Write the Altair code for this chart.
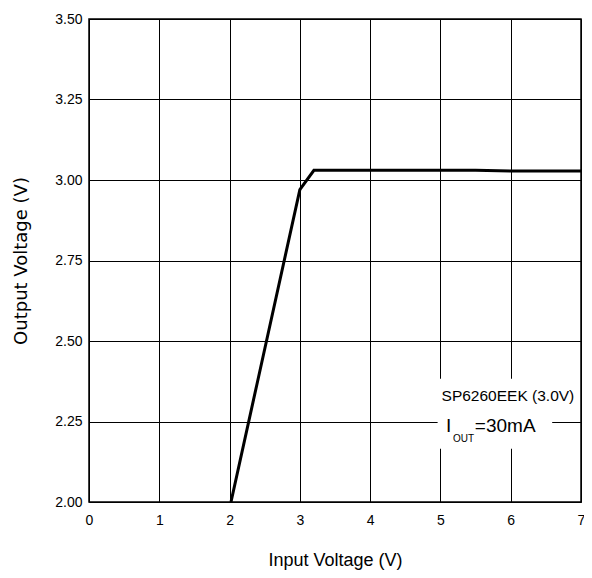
import altair as alt
import pandas as pd

# Data
vin = [2.02, 3.0, 3.2, 4.0, 5.0, 5.5, 6.0, 7.0]
vout = [2.00, 2.97, 3.03, 3.03, 3.03, 3.03, 3.028, 3.028]

x_ticks = [0, 1, 2, 3, 4, 5, 6, 7]
y_ticks = [2.00, 2.25, 2.50, 2.75, 3.00, 3.25, 3.50]

box_x = [4.96]
box_x2 = [6.59]
box_y = [2.165]
box_y2 = [2.383]

label1 = ["SP6260EEK (3.0V)"]
label1_x = [5.96]
label1_y = [2.330]
label_i = ["I"]
label_i_x = [5.08]
label_out = ["OUT"]
label_out_x = [5.33]
label_eq = ["=30mA"]
label_eq_x = [5.49]
label2_y = [2.236]
label_out_y = [2.196]

df = pd.DataFrame({"vin": vin, "vout": vout})

xs = alt.Scale(domain=[0, 7], nice=False, zero=False)
ys = alt.Scale(domain=[2.0, 3.5], nice=False, zero=False)

FONT = "Liberation Sans"

line = alt.Chart(df).mark_line(color="black", strokeWidth=3, clip=True).encode(
    x=alt.X("vin:Q", scale=xs, axis=alt.Axis(
        values=x_ticks, title="Input Voltage (V)", format="d",
        labelPadding=11, titlePadding=24, grid=True, labelFlush=False,
        titleFont=FONT, titleFontSize=18)),
    y=alt.Y("vout:Q", scale=ys, axis=alt.Axis(
        values=y_ticks, title="Output Voltage (V)", format=".2f",
        labelPadding=7, titlePadding=24, grid=True, labelFlush=False,
        titleFont="DejaVu Sans", titleFontSize=18)),
)

box = alt.Chart(pd.DataFrame({"x": box_x, "x2": box_x2, "y": box_y, "y2": box_y2})).mark_rect(
    color="white").encode(x=alt.X("x:Q", scale=xs), x2="x2:Q", y=alt.Y("y:Q", scale=ys), y2="y2:Q")

t1 = alt.Chart(pd.DataFrame({"x": label1_x, "y": label1_y, "t": label1})).mark_text(
    font=FONT, fontSize=15.5, align="center", baseline="middle", color="black").encode(
    x=alt.X("x:Q", scale=xs), y=alt.Y("y:Q", scale=ys), text="t:N")

ti = alt.Chart(pd.DataFrame({"x": label_i_x, "y": label2_y, "t": label_i})).mark_text(
    font=FONT, fontSize=19, align="left", baseline="middle", color="black").encode(
    x=alt.X("x:Q", scale=xs), y=alt.Y("y:Q", scale=ys), text="t:N")

tout = alt.Chart(pd.DataFrame({"x": label_out_x, "y": label_out_y, "t": label_out})).mark_text(
    font=FONT, fontSize=10, align="center", baseline="middle", color="black").encode(
    x=alt.X("x:Q", scale=xs), y=alt.Y("y:Q", scale=ys), text="t:N")

teq = alt.Chart(pd.DataFrame({"x": label_eq_x, "y": label2_y, "t": label_eq})).mark_text(
    font=FONT, fontSize=19, align="left", baseline="middle", color="black").encode(
    x=alt.X("x:Q", scale=xs), y=alt.Y("y:Q", scale=ys), text="t:N")

chart = alt.layer(line, box, t1, ti, tout, teq).properties(
    width=492, height=483,
    autosize=alt.AutoSizeParams(type="none"),
    padding={"left": 81, "top": 11, "right": 3, "bottom": 70},
    background="white",
).configure_view(
    stroke="black", strokeWidth=1.5
).configure_axis(
    domain=False, ticks=False, grid=True, gridColor="black", gridOpacity=1, gridWidth=1,
    labelFont=FONT, labelFontSize=14, labelColor="black",
    titleFontWeight="normal", titleColor="black",
)

chart.save("out.html", embed_options={"renderer": "svg", "actions": False})
